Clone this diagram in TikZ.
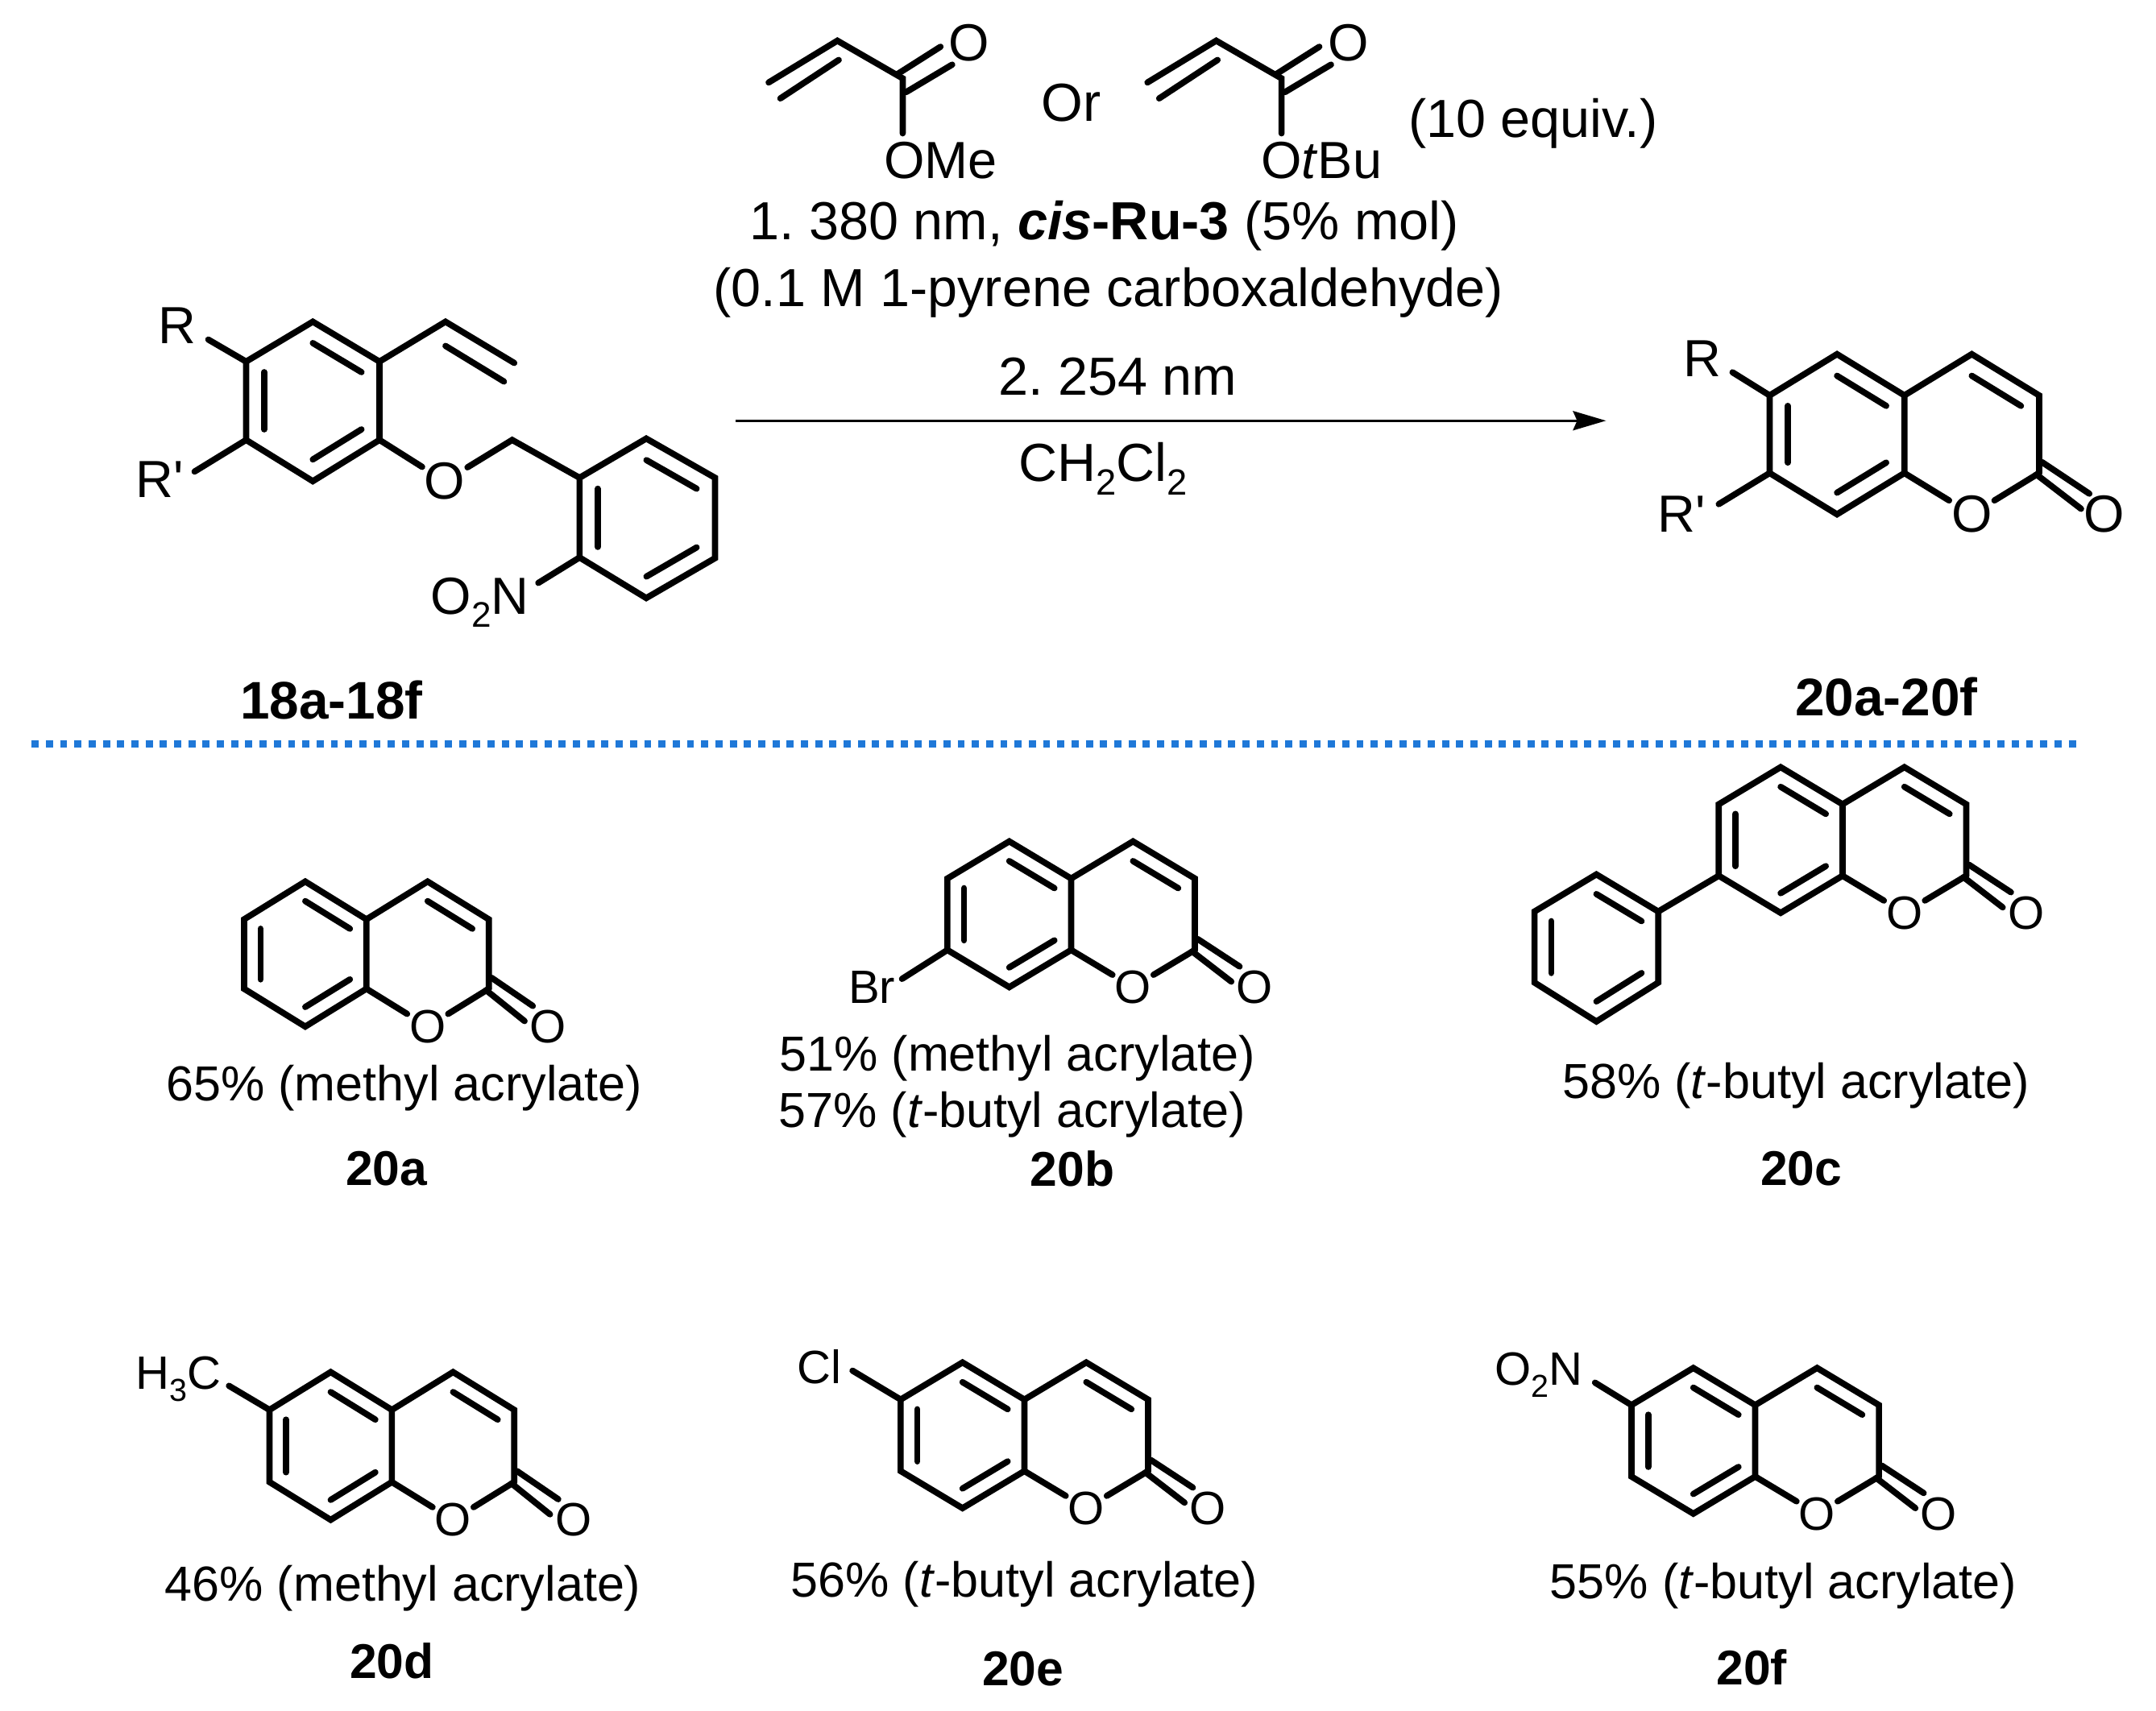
\documentclass[tikz,border=0pt]{standalone}
\usepackage{fontspec}
\setmainfont{Liberation Sans}
\usetikzlibrary{calc,arrows.meta}
\definecolor{sepblue}{RGB}{31,120,216}
\tikzset{
  bond/.style={line width=4.5bp,line join=miter,line cap=round},
  rxn/.style={line width=2bp,-{Stealth[length=24bp,width=14bp,inset=3bp]}},
  sepline/.style={sepblue,line width=5bp,dash pattern=on 5.2bp off 5.16bp},
  atom/.style={inner sep=1.5bp,font=\fontsize{34bp}{38bp}\selectfont},
  bigatom/.style={inner sep=1.5bp,font=\fontsize{38bp}{42bp}\selectfont},
  cond/.style={inner sep=0pt,font=\fontsize{39bp}{42bp}\selectfont},
  yield/.style={inner sep=0pt,font=\fontsize{35.8bp}{40bp}\selectfont},
  cpd/.style={inner sep=0pt,font=\fontsize{35.5bp}{40bp}\selectfont\bfseries},
  bigcpd/.style={inner sep=0pt,font=\fontsize{38.5bp}{42bp}\selectfont\bfseries},
}
% subscript in the text face
\newcommand{\dn}[1]{\raisebox{-.25em}{\scalebox{.68}{#1}}}
% ring double bond: side #1--#2, inner line pulled toward centre #3
\newcommand{\dbl}[3]{\draw[bond] ($(#1)!.27!(#3)$) -- ($(#2)!.27!(#3)$);}
% coumarin: name, x and y of upper fusion atom, half width, rise, side
\newcommand{\coumarin}[6]{
  \coordinate (#1f) at (#2,#3);
  \coordinate (#1g) at (#2,#3+#6);
  \coordinate (#1t) at (#2-#4,#3-#5);
  \coordinate (#1l) at (#2-2*#4,#3);
  \coordinate (#1m) at (#2-2*#4,#3+#6);
  \coordinate (#1b) at (#2-#4,#3+#6+#5);
  \coordinate (#1c) at (#2-#4,#3+#6/2);
  \coordinate (#1p) at (#2+#4,#3-#5);
  \coordinate (#1r) at (#2+2*#4,#3);
  \coordinate (#1k) at (#2+2*#4,#3+#6);
  \coordinate (#1d) at (#2+#4,#3+#6/2);
  \node[atom] (#1o) at (#2+#4,#3+#6+#5) {O};
  \node[atom] (#1x) at (#2+3*#4-1.5,#3+#6+#5) {O};
  \draw[bond] (#1f) -- (#1t) -- (#1l) -- (#1m) -- (#1b) -- (#1g) -- cycle;
  \draw[bond] (#1f) -- (#1p) -- (#1r) -- (#1k);
  \draw[bond] (#1g) -- (#1o);
  \draw[bond] (#1o) -- (#1k);
  \draw[bond] ($(#1k)+(2,-8)$) -- ($(#1x)+(-11,-15)$);
  \draw[bond] ($(#1k)+(-2,1)$) -- ($(#1x)+(-17,-4)$);
  \dbl{#1t}{#1f}{#1c}
  \dbl{#1l}{#1m}{#1c}
  \dbl{#1b}{#1g}{#1c}
  \dbl{#1p}{#1r}{#1d}
}
% acrylate: name, shift, ester label, label x
\newcommand{\acrylate}[4]{
  \begin{scope}[xshift=#2bp]
  \coordinate (#1a) at (559,60);
  \coordinate (#1b) at (609,29.6);
  \coordinate (#1c) at (656.5,57);
  \coordinate (#1v) at (656.5,97);
  \node[bigatom] (#1o) at (705,31) {O};
  \node[bigatom,inner sep=0pt] (#1e) at (#4,116.5) {#3};
  \draw[bond] (#1a) -- (#1b) -- (#1c) -- (#1v);
  \draw[bond] ($(#1a)+(8.5,11.6)$) -- ($(#1b)+(1,14)$);
  \draw[bond] ($(#1c)+(-4,-3)$) -- ($(#1o)+(-21,3)$);
  \draw[bond] ($(#1c)+(2.5,10)$) -- ($(#1o)+(-12.5,16)$);
  \end{scope}
}
\frenchspacing
\begin{document}
\begin{tikzpicture}[x=1bp,y=-1bp,>=latex]
\useasboundingbox (0,0) rectangle (1568,1244);
%% reagents and conditions
\acrylate{me}{0}{OMe}{684}
\acrylate{tb}{275.5}{O\textit{t}Bu}{685.5}
\node[cond] (or) at (779,75) {Or};
\node[cond] (equiv) at (1115,90) {(10 equiv.)};
\node[cond] (step1) at (803,164) {1. 380 nm, \textbf{\textit{cis}-Ru-3} (5\% mol)};
\node[cond] (sens) at (806,213) {(0.1 M 1-pyrene carboxaldehyde)};
\node[cond] (step2) at (813,274) {2. 254 nm};
\node[cond] (solv) at (802,341) {CH\dn{2}Cl\dn{2}};
\coordinate (arrL) at (535,306);
\coordinate (arrR) at (1168,306);
\draw[rxn] (arrL) -- (arrR);
%% substrate
\coordinate (s1) at (227.5,234);
\coordinate (s2) at (276,263);
\coordinate (s3) at (276,320);
\coordinate (s4) at (227.5,350);
\coordinate (s5) at (179,320);
\coordinate (s6) at (179,263);
\coordinate (sc) at (227.5,291.5);
\coordinate (vi1) at (324,234);
\coordinate (vi2) at (374,264);
\coordinate (ch2) at (372.5,320);
\coordinate (n1) at (421.5,347.5);
\coordinate (n2) at (470,319);
\coordinate (n3) at (520,347.5);
\coordinate (n4) at (520,406);
\coordinate (n5) at (470,435);
\coordinate (n6) at (421.5,405.5);
\coordinate (nc) at (470.5,377);
\coordinate (sre) at (151.5,247);
\coordinate (srpe) at (141.5,343);
\coordinate (snoe) at (391.5,424);
\node[bigatom,inner sep=0pt] (sr) at (129,237) {R};
\node[bigatom,inner sep=0pt] (srp) at (116,349) {R\textquotesingle};
\node[bigatom] (so) at (323.5,350) {O};
\node[bigatom,inner sep=0pt] (sno) at (349,438) {O\dn{2}N};
\draw[bond] (s1) -- (s2) -- (s3) -- (s4) -- (s5) -- (s6) -- cycle;
\draw[bond] (s2) -- (vi1) -- (vi2);
\draw[bond] ($(vi1)+(0,17.6)$) -- ($(vi2)+(-7.5,13.5)$);
\dbl{s1}{s2}{sc}
\dbl{s3}{s4}{sc}
\dbl{s5}{s6}{sc}
\draw[bond] (s6) -- (sre);
\draw[bond] (s5) -- (srpe);
\draw[bond] (s3) -- (so);
\draw[bond] (so) -- (ch2) -- (n1);
\draw[bond] (n1) -- (n2) -- (n3) -- (n4) -- (n5) -- (n6) -- cycle;
\dbl{n2}{n3}{nc}
\dbl{n4}{n5}{nc}
\dbl{n6}{n1}{nc}
\draw[bond] (n6) -- (snoe);
\node[bigcpd] (lab18) at (241,509) {18a-18f};
%% product
\begin{scope}[atom/.style=bigatom]
\coumarin{p}{1385}{287.6}{49}{30}{56.5}
\end{scope}
\coordinate (pre) at (1260,270.8);
\coordinate (prpe) at (1250,366.7);
\node[bigatom,inner sep=0pt] (pr) at (1238,261) {R};
\node[bigatom,inner sep=0pt] (prp) at (1223,374) {R\textquotesingle};
\draw[bond] (pl) -- (pre);
\draw[bond] (pm) -- (prpe);
\node[bigcpd] (lab20) at (1372,507) {20a-20f};
%
\coordinate (sepL) at (23,541);
\coordinate (sepR) at (1510,541);
\draw[sepline] (sepL) -- (sepR);
%% 20a
\coumarin{a}{266.5}{668.7}{44.5}{27.5}{50.5}
\node[yield] (ya) at (294,791.5) {65\% (methyl acrylate)};
\node[cpd] (la) at (281,850) {20a};
%% 20b
\coumarin{b}{779}{639}{45}{27}{52}
\coordinate (bre) at (656,712);
\node[atom,inner sep=0pt] (brb) at (634,718) {Br};
\draw[bond] (bm) -- (bre);
\node[yield] (yb1) at (740,769.5) {51\% (methyl acrylate)};
\node[yield] (yb2) at (736,810.5) {57\% (\textit{t}-butyl acrylate)};
\node[cpd] (lb) at (780,850) {20b};
%% 20c
\coumarin{c}{1340}{585}{45}{27}{52}
\coordinate (f1) at (1161,636);
\coordinate (f2) at (1206,663);
\coordinate (f3) at (1206,714.7);
\coordinate (f4) at (1161,743);
\coordinate (f5) at (1116,714.7);
\coordinate (f6) at (1116,663);
\coordinate (fc) at (1161,689);
\draw[bond] (f1) -- (f2) -- (f3) -- (f4) -- (f5) -- (f6) -- cycle;
\dbl{f1}{f2}{fc}
\dbl{f3}{f4}{fc}
\dbl{f5}{f6}{fc}
\draw[bond] (f2) -- (cm);
\node[yield] (yc) at (1306,789.5) {58\% (\textit{t}-butyl acrylate)};
\node[cpd] (lc) at (1310,850) {20c};
%% 20d
\coumarin{d}{285}{1025.5}{44.5}{27.5}{52.5}
\coordinate (mee) at (166.5,1008);
\node[atom,inner sep=0pt] (med) at (130,1003) {H\dn{3}C};
\draw[bond] (dl) -- (mee);
\node[yield] (yd) at (293,1155.5) {46\% (methyl acrylate)};
\node[cpd] (ld) at (285,1208) {20d};
%% 20e
\coumarin{e}{745}{1018}{45}{27}{52}
\coordinate (cee) at (620,997);
\node[atom,inner sep=0pt] (cle) at (596,994) {Cl};
\draw[bond] (el) -- (cee);
\node[yield] (ye) at (745,1152.5) {56\% (\textit{t}-butyl acrylate)};
\node[cpd] (le) at (744,1214) {20e};
%% 20f
\coumarin{g}{1276.5}{1022}{45}{27}{52}
\coordinate (noe) at (1160,1005.7);
\node[atom,inner sep=0pt] (nof) at (1119,1000) {O\dn{2}N};
\draw[bond] (gl) -- (noe);
\node[yield] (yf) at (1297,1153.5) {55\% (\textit{t}-butyl acrylate)};
\node[cpd] (lf) at (1274,1213) {20f};
%
\end{tikzpicture}
\end{document}
